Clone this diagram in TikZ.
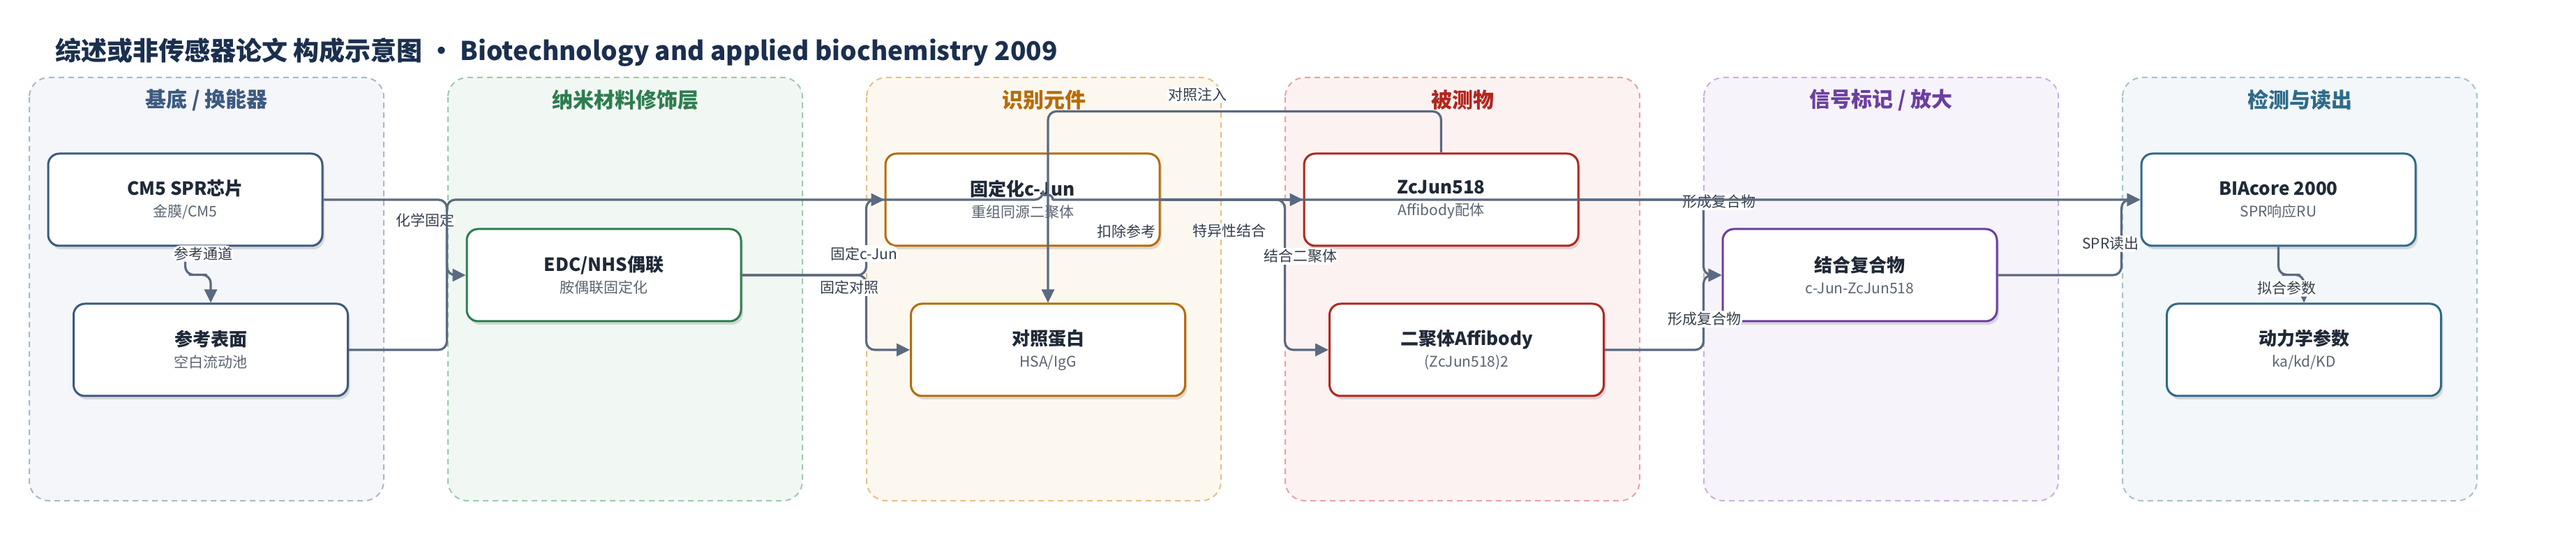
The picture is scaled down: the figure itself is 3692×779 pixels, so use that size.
\documentclass[tikz,border=0pt]{standalone}
\usepackage{fontspec}
\setmainfont{Noto Sans CJK SC}
\usepackage{tikz}
\usetikzlibrary{calc,arrows.meta,shadows}

\definecolor{edgegray}{HTML}{5A6A80}
\definecolor{inkdark}{HTML}{1F2937}
\definecolor{inksub}{HTML}{5B6472}
\definecolor{titlenavy}{HTML}{1B2F4E}
\definecolor{subsline}{HTML}{3D5A80}
\definecolor{subsfill}{HTML}{F4F6FA}
\definecolor{subsdash}{HTML}{A9B8CB}
\definecolor{nanoline}{HTML}{2E7D4F}
\definecolor{nanofill}{HTML}{F1F8F3}
\definecolor{nanodash}{HTML}{9DCBAF}
\definecolor{recline}{HTML}{B56D08}
\definecolor{recfill}{HTML}{FDF8EF}
\definecolor{recdash}{HTML}{E6C08A}
\definecolor{analine}{HTML}{B3261E}
\definecolor{anafill}{HTML}{FDF2F2}
\definecolor{anadash}{HTML}{E9A3A3}
\definecolor{sigline}{HTML}{6B3FA0}
\definecolor{sigfill}{HTML}{F7F3FB}
\definecolor{sigdash}{HTML}{C8B2E2}
\definecolor{detline}{HTML}{2F6B8A}
\definecolor{detfill}{HTML}{F3F7F9}
\definecolor{detdash}{HTML}{A6C2CF}

\tikzset{
  lane/.style 2 args={draw=#1, fill=#2, line width=1pt, dash pattern=on 4pt off 3pt, rounded corners=14pt},
  lanetitle/.style={font=\fontsize{15pt}{18pt}\selectfont\bfseries},
  block/.style={draw=#1, fill=white, line width=1.5pt, rounded corners=8pt,
    minimum width=196.5pt, minimum height=66pt, align=center, text=inkdark,
    font=\fontsize{10.5pt}{15.5pt}\selectfont,
    drop shadow={shadow xshift=1.5pt, shadow yshift=-2.5pt, opacity=.12, fill=black}},
  flow/.style={draw=edgegray, line width=1.6pt, rounded corners=6pt, line join=round,
    -{Triangle[length=9.5pt,width=9pt]}},
  tag/.style={fill=white, inner sep=1pt, text=inkdark!90, font=\fontsize{10.5pt}{12pt}\selectfont}
}
\newcommand{\blocktext}[2]{{\fontsize{13pt}{15.5pt}\selectfont\bfseries #1}\\{\color{inksub}#2}}

\begin{document}
\begin{tikzpicture}[x=0.5pt,y=-0.5pt]
\useasboundingbox (0,0) rectangle (3692,779);
\fill[white] (0,0) rectangle (3692,779);

\node[anchor=west, text=titlenavy, font=\fontsize{18.5pt}{22pt}\selectfont\bfseries] (title) at (72,75)
  {综述或非传感器论文 构成示意图 • Biotechnology and applied biochemistry 2009};

% lanes
\draw[lane={subsdash}{subsfill}] (42,111) rectangle (550,717);
\draw[lane={nanodash}{nanofill}] (642,111) rectangle (1150,717);
\draw[lane={recdash}{recfill}] (1242,111) rectangle (1750,717);
\draw[lane={anadash}{anafill}] (1842,111) rectangle (2350,717);
\draw[lane={sigdash}{sigfill}] (2442,111) rectangle (2950,717);
\draw[lane={detdash}{detfill}] (3042,111) rectangle (3550,717);
\node[lanetitle, text=subsline] (t1) at (296,143) {基底 / 换能器};
\node[lanetitle, text=nanoline] (t2) at (896,143) {纳米材料修饰层};
\node[lanetitle, text=recline] (t3) at (1496,143) {识别元件};
\node[lanetitle, text=analine] (t4) at (2096,143) {被测物};
\node[lanetitle, text=sigline] (t5) at (2696,143) {信号标记 / 放大};
\node[lanetitle, text=detline] (t6) at (3296,143) {检测与读出};

% blocks
\node[block=subsline] (chip) at (265.5,286) {\blocktext{CM5 SPR芯片}{金膜/CM5}};
\node[block=subsline] (refsurf) at (302,501) {\blocktext{参考表面}{空白流动池}};
\node[block=nanoline] (edc) at (865.5,394) {\blocktext{EDC/NHS偶联}{胺偶联固定化}};
\node[block=recline] (cjun) at (1465.5,286) {\blocktext{固定化c-Jun}{重组同源二聚体}};
\node[block=recline] (ctrl) at (1502,501) {\blocktext{对照蛋白}{HSA/IgG}};
\node[block=analine] (zcjun) at (2065.5,286) {\blocktext{ZcJun518}{Affibody配体}};
\node[block=analine] (dimer) at (2102,501) {\blocktext{二聚体Affibody}{(ZcJun518)2}};
\node[block=sigline] (cplx) at (2665.5,394) {\blocktext{结合复合物}{c-Jun-ZcJun518}};
\node[block=detline] (biacore) at (3265.5,286) {\blocktext{BIAcore 2000}{SPR响应RU}};
\node[block=detline] (kin) at (3302,501) {\blocktext{动力学参数}{ka/kd/KD}};

% connectors
\draw[flow] (chip.south) |- ($(chip.south)!.5!(refsurf.north)$) -| (refsurf.north)
  node[tag] (l1) at (291,363) {参考通道};
\draw[flow] (chip.east) -| ($(edc.west)+(-27,0)$) -- (edc.west)
  node[tag] (l2) at (609,315) {化学固定};
\draw[flow] (edc.east) -| ($(cjun.west)+(-26,0)$) -- (cjun.west)
  node[tag] (l4) at (1238,363) {固定c-Jun};
\draw[flow] (edc.east) -| ($(ctrl.west -| cjun.west)+(-26,0)$) -- (ctrl.west)
  node[tag] (l5) at (1217,412) {固定对照};
\draw[flow] (cjun.east) -- (zcjun.west)
  node[tag] (l6) at (1762,331) {特异性结合};
\draw[flow] (cjun.east) -| ($(dimer.west -| zcjun.west)+(-26,0)$) -- (dimer.west)
  node[tag] (l7) at (1864,367) {结合二聚体};
\draw[flow] (zcjun.north) -- ++(0,-59) -| (ctrl.north)
  node[tag] (l8) at (1716,136) {对照注入};
\draw[flow] (zcjun.east) -| ($(cplx.west)+(-26,0)$) -- (cplx.west)
  node[tag] (l9) at (2464,289) {形成复合物};
\draw[flow] (dimer.east) -| ($(cplx.west)+(-26,0)$) -- (cplx.west)
  node[tag] (l10) at (2443,457) {形成复合物};
\draw[flow] (cplx.east) -| ($(biacore.west)+(-27,0)$) -- (biacore.west)
  node[tag] (l11) at (3025,349) {SPR读出};
\draw[flow] (biacore.south) |- ($(biacore.south)!.5!(kin.north)$) -| (kin.north)
  node[tag] (l12) at (3277,413) {拟合参数};
\draw[flow] (refsurf.east) -| ($(biacore.west -| edc.west)+(-27,0)$)
  -- ($(biacore.west -| ctrl.north)+(-7,0)$) [sharp corners] arc[start angle=180, end angle=0, radius=3.5pt]
  [rounded corners=6pt] -- (biacore.west)
  node[tag] (l3) at (1614,331) {扣除参考};
\end{tikzpicture}
\end{document}
